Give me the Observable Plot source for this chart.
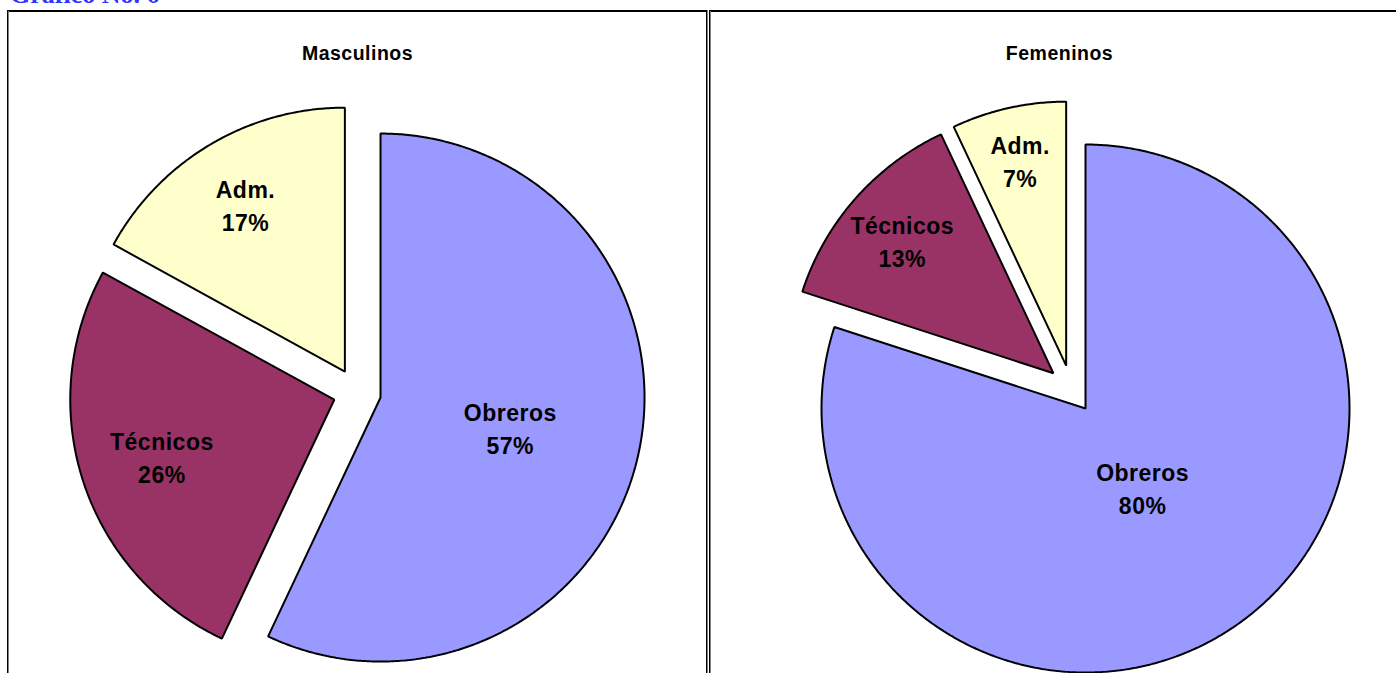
<!DOCTYPE html>
<html><head><meta charset="utf-8">
<script src="https://cdn.jsdelivr.net/npm/d3@7"></script>
<script src="https://cdn.jsdelivr.net/npm/@observablehq/plot@0.6"></script>
<style>
html,body{margin:0;padding:0;background:#fff;}
body{width:1396px;height:673px;overflow:hidden;position:relative;}
#title{position:absolute;left:10px;top:-18px;font:bold 26px "Liberation Serif","Times New Roman",serif;line-height:26px;color:#3333FF;white-space:nowrap;}
.panel{position:absolute;top:10px;}
.panel svg{display:block;}
.panel svg text{letter-spacing:0.5px;}
.ln{position:absolute;}
</style></head><body>
<div id="title">Gráfico No. 6</div>
<div id="p1" class="panel" style="left:7px"></div>
<div id="p2" class="panel" style="left:709px"></div>
<div class="ln" style="left:7px;top:10px;width:700px;height:2px;background:#000"></div>
<div class="ln" style="left:7px;top:10px;width:1px;height:663px;background:#000"></div>
<div class="ln" style="left:8px;top:11px;width:1px;height:662px;background:#808080"></div>
<div class="ln" style="left:706px;top:10px;width:1px;height:663px;background:#000"></div>
<div class="ln" style="left:707px;top:10px;width:1px;height:663px;background:#808080"></div>
<div class="ln" style="left:709px;top:10px;width:687px;height:2px;background:#000"></div>
<div class="ln" style="left:709px;top:10px;width:1px;height:663px;background:#000"></div>
<div class="ln" style="left:710px;top:11px;width:1px;height:662px;background:#808080"></div>
<script>
// ---- data ----
const categories = ["Obreros", "Técnicos", "Adm."];
const masculinos = [57, 26, 17];
const femeninos = [80, 13, 7];
const panelTitles = ["Masculinos", "Femeninos"];
const sliceColors = ["#9999FF", "#993366", "#FFFFCC"];

// ---- layout ----
const H = 663;
const R = 264, EXPLODE = 24;

function buildPie(values, cx, cy) {
  const total = d3.sum(values);
  const polys = [], labels = [];
  let acc = 0;
  values.forEach((v, i) => {
    const a0 = acc / total * 2 * Math.PI;
    const a1 = (acc + v) / total * 2 * Math.PI;
    acc += v;
    const mid = (a0 + a1) / 2;
    const vx = cx + EXPLODE * Math.sin(mid), vy = cy - EXPLODE * Math.cos(mid);
    const cat = categories[i];
    polys.push({cat, x: vx, y: vy});
    const n = Math.max(2, Math.ceil((a1 - a0) / (Math.PI / 360)));
    for (let k = 0; k <= n; k++) {
      const t = a0 + (a1 - a0) * k / n;
      polys.push({cat, x: vx + R * Math.sin(t), y: vy - R * Math.cos(t)});
    }
    const share = v / total;
    const frac = 0.84 - 0.59 * share;
    labels.push({
      cat,
      x: vx + frac * R * Math.sin(mid),
      y: vy - frac * R * Math.cos(mid),
      text: cat + "\n" + Math.round(share * 100) + "%"
    });
  });
  return {polys, labels};
}

function drawPanel(el, values, title, cx, cy, w) {
  const {polys, labels} = buildPie(values, cx, cy);
  const chart = Plot.plot({
    width: w, height: H, margin: 0,
    x: {domain: [0, w], range: [0, w], axis: null},
    y: {domain: [0, H], range: [0, H], axis: null},
    color: {domain: categories, range: sliceColors},
    style: {background: "transparent", fontFamily: "'Liberation Sans', Arial, sans-serif", overflow: "visible"},
    marks: [
      Plot.line(polys, {x: "x", y: "y", z: "cat", fill: "cat", stroke: "#000", strokeWidth: 2, curve: "linear-closed", strokeLinejoin: "miter"}),
      Plot.text(labels, {x: "x", y: "y", text: "text", fontSize: 23, fontWeight: "bold", lineHeight: 1.45, fill: "#000"}),
      Plot.text([title], {x: () => 350, frameAnchor: "top", lineAnchor: "middle", dy: 43, text: d => d, fontSize: 19.5, fontWeight: "bold", fill: "#000"})
    ]
  });
  document.getElementById(el).appendChild(chart);
}

drawPanel("p1", masculinos, panelTitles[0], 349.6, 381.8, 700);
drawPanel("p2", femeninos, panelTitles[1], 361.9, 378.6, 687);
</script>
</body></html>
